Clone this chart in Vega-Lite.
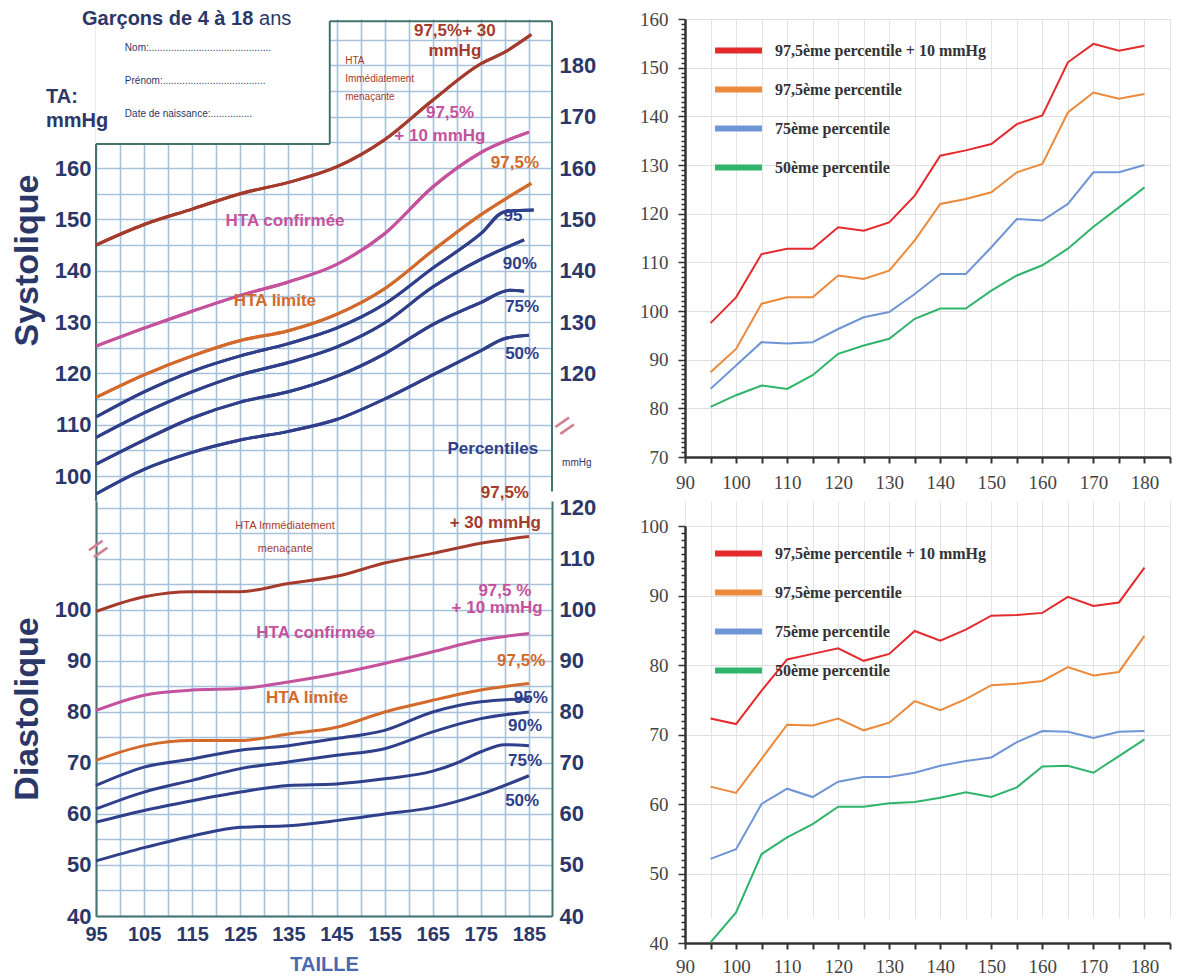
{
  "$schema": "https://vega.github.io/schema/vega-lite/v6.json",
  "background": "white",
  "padding": {"left": 10, "top": 9, "right": 5, "bottom": 2},
  "config": {"view": {"stroke": null}, "font": "Liberation Sans"},
  "datasets": {
    "sysL": [
      {"c":"p975_30","x":95,"v":145},{"c":"p975_30","x":105,"v":149},{"c":"p975_30","x":115,"v":152},{"c":"p975_30","x":125,"v":155},{"c":"p975_30","x":135,"v":157.2},{"c":"p975_30","x":145,"v":160.2},{"c":"p975_30","x":155,"v":165.5},{"c":"p975_30","x":165,"v":173.2},{"c":"p975_30","x":175,"v":180.3},{"c":"p975_30","x":180,"v":182.6},{"c":"p975_30","x":185.5,"v":186},
      {"c":"p975_10","x":95,"v":125.3},{"c":"p975_10","x":105,"v":128.8},{"c":"p975_10","x":115,"v":132.1},{"c":"p975_10","x":125,"v":135.2},{"c":"p975_10","x":135,"v":137.8},{"c":"p975_10","x":145,"v":141.2},{"c":"p975_10","x":155,"v":147.2},{"c":"p975_10","x":165,"v":156.3},{"c":"p975_10","x":175,"v":163},{"c":"p975_10","x":185,"v":167},
      {"c":"p975","x":95,"v":115.3},{"c":"p975","x":105,"v":119.7},{"c":"p975","x":115,"v":123.4},{"c":"p975","x":125,"v":126.4},{"c":"p975","x":135,"v":128.3},{"c":"p975","x":145,"v":131.5},{"c":"p975","x":155,"v":136.5},{"c":"p975","x":165,"v":143.9},{"c":"p975","x":175,"v":150.9},{"c":"p975","x":185.5,"v":157},
      {"c":"p95","x":95,"v":111.5},{"c":"p95","x":105,"v":116.4},{"c":"p95","x":115,"v":120.4},{"c":"p95","x":125,"v":123.4},{"c":"p95","x":135,"v":125.8},{"c":"p95","x":145,"v":128.8},{"c":"p95","x":155,"v":133.5},{"c":"p95","x":165,"v":140.5},{"c":"p95","x":175,"v":147.2},{"c":"p95","x":180,"v":151.5},{"c":"p95","x":186,"v":151.8},
      {"c":"p90","x":95,"v":107.5},{"c":"p90","x":105,"v":112.3},{"c":"p90","x":115,"v":116.4},{"c":"p90","x":125,"v":119.7},{"c":"p90","x":135,"v":122.1},{"c":"p90","x":145,"v":125.1},{"c":"p90","x":155,"v":129.8},{"c":"p90","x":165,"v":136.8},{"c":"p90","x":175,"v":142.2},{"c":"p90","x":184,"v":146},
      {"c":"p75","x":95,"v":102.3},{"c":"p75","x":105,"v":107},{"c":"p75","x":115,"v":111.3},{"c":"p75","x":125,"v":114.4},{"c":"p75","x":135,"v":116.4},{"c":"p75","x":145,"v":119.4},{"c":"p75","x":155,"v":123.8},{"c":"p75","x":165,"v":129.5},{"c":"p75","x":175,"v":133.8},{"c":"p75","x":181,"v":136.2},{"c":"p75","x":184,"v":136},
      {"c":"p50","x":95,"v":96.5},{"c":"p50","x":105,"v":101.3},{"c":"p50","x":115,"v":104.6},{"c":"p50","x":125,"v":107},{"c":"p50","x":135,"v":108.7},{"c":"p50","x":145,"v":111},{"c":"p50","x":155,"v":115},{"c":"p50","x":165,"v":119.7},{"c":"p50","x":175,"v":124.4},{"c":"p50","x":180,"v":126.8},{"c":"p50","x":185,"v":127.4}
    ],
    "diaL": [
      {"c":"p975_30","x":95,"v":99.7},{"c":"p975_30","x":105,"v":102.6},{"c":"p975_30","x":115,"v":103.6},{"c":"p975_30","x":125,"v":103.6},{"c":"p975_30","x":135,"v":105.2},{"c":"p975_30","x":145,"v":106.6},{"c":"p975_30","x":155,"v":109.2},{"c":"p975_30","x":165,"v":111.1},{"c":"p975_30","x":175,"v":113.1},{"c":"p975_30","x":185,"v":114.4},
      {"c":"p975_10","x":95,"v":80.3},{"c":"p975_10","x":105,"v":83.3},{"c":"p975_10","x":115,"v":84.3},{"c":"p975_10","x":125,"v":84.6},{"c":"p975_10","x":135,"v":85.9},{"c":"p975_10","x":145,"v":87.5},{"c":"p975_10","x":155,"v":89.5},{"c":"p975_10","x":165,"v":91.8},{"c":"p975_10","x":175,"v":94.1},{"c":"p975_10","x":185,"v":95.4},
      {"c":"p975","x":95,"v":70.5},{"c":"p975","x":105,"v":73.4},{"c":"p975","x":115,"v":74.4},{"c":"p975","x":125,"v":74.4},{"c":"p975","x":135,"v":75.7},{"c":"p975","x":145,"v":77},{"c":"p975","x":155,"v":80},{"c":"p975","x":165,"v":82.3},{"c":"p975","x":175,"v":84.3},{"c":"p975","x":185,"v":85.6},
      {"c":"p95","x":95,"v":65.6},{"c":"p95","x":105,"v":69.2},{"c":"p95","x":115,"v":70.8},{"c":"p95","x":125,"v":72.5},{"c":"p95","x":135,"v":73.4},{"c":"p95","x":145,"v":74.8},{"c":"p95","x":155,"v":76.4},{"c":"p95","x":165,"v":80},{"c":"p95","x":175,"v":82},{"c":"p95","x":185,"v":82.6},
      {"c":"p90","x":95,"v":61},{"c":"p90","x":105,"v":64.3},{"c":"p90","x":115,"v":66.6},{"c":"p90","x":125,"v":68.9},{"c":"p90","x":135,"v":70.2},{"c":"p90","x":145,"v":71.5},{"c":"p90","x":155,"v":72.8},{"c":"p90","x":165,"v":76.1},{"c":"p90","x":175,"v":78.7},{"c":"p90","x":185,"v":80},
      {"c":"p75","x":95,"v":58.4},{"c":"p75","x":105,"v":60.7},{"c":"p75","x":115,"v":62.6},{"c":"p75","x":125,"v":64.3},{"c":"p75","x":135,"v":65.6},{"c":"p75","x":145,"v":65.9},{"c":"p75","x":155,"v":66.9},{"c":"p75","x":165,"v":68.4},{"c":"p75","x":170,"v":70},{"c":"p75","x":175,"v":72.2},{"c":"p75","x":180,"v":73.6},{"c":"p75","x":185,"v":73.4},
      {"c":"p50","x":95,"v":50.8},{"c":"p50","x":105,"v":53.4},{"c":"p50","x":115,"v":55.7},{"c":"p50","x":125,"v":57.4},{"c":"p50","x":135,"v":57.7},{"c":"p50","x":145,"v":58.7},{"c":"p50","x":155,"v":60},{"c":"p50","x":165,"v":61.3},{"c":"p50","x":175,"v":63.9},{"c":"p50","x":185,"v":67.5}
    ],
    "sysR": [
      {"s":"97,5ème percentile + 10 mmHg","x":95,"v":97.5},{"s":"97,5ème percentile + 10 mmHg","x":100,"v":102.8},{"s":"97,5ème percentile + 10 mmHg","x":105,"v":111.7},{"s":"97,5ème percentile + 10 mmHg","x":110,"v":112.8},{"s":"97,5ème percentile + 10 mmHg","x":115,"v":112.8},{"s":"97,5ème percentile + 10 mmHg","x":120,"v":117.2},{"s":"97,5ème percentile + 10 mmHg","x":125,"v":116.5},{"s":"97,5ème percentile + 10 mmHg","x":130,"v":118.2},{"s":"97,5ème percentile + 10 mmHg","x":135,"v":123.7},{"s":"97,5ème percentile + 10 mmHg","x":140,"v":131.9},{"s":"97,5ème percentile + 10 mmHg","x":145,"v":133},{"s":"97,5ème percentile + 10 mmHg","x":150,"v":134.3},{"s":"97,5ème percentile + 10 mmHg","x":155,"v":138.4},{"s":"97,5ème percentile + 10 mmHg","x":160,"v":140.2},{"s":"97,5ème percentile + 10 mmHg","x":165,"v":151.1},{"s":"97,5ème percentile + 10 mmHg","x":170,"v":154.9},{"s":"97,5ème percentile + 10 mmHg","x":175,"v":153.5},{"s":"97,5ème percentile + 10 mmHg","x":180,"v":154.5},
      {"s":"97,5ème percentile","x":95,"v":87.4},{"s":"97,5ème percentile","x":100,"v":92.2},{"s":"97,5ème percentile","x":105,"v":101.5},{"s":"97,5ème percentile","x":110,"v":102.8},{"s":"97,5ème percentile","x":115,"v":102.8},{"s":"97,5ème percentile","x":120,"v":107.3},{"s":"97,5ème percentile","x":125,"v":106.6},{"s":"97,5ème percentile","x":130,"v":108.3},{"s":"97,5ème percentile","x":135,"v":114.5},{"s":"97,5ème percentile","x":140,"v":122},{"s":"97,5ème percentile","x":145,"v":123},{"s":"97,5ème percentile","x":150,"v":124.4},{"s":"97,5ème percentile","x":155,"v":128.5},{"s":"97,5ème percentile","x":160,"v":130.2},{"s":"97,5ème percentile","x":165,"v":140.8},{"s":"97,5ème percentile","x":170,"v":144.9},{"s":"97,5ème percentile","x":175,"v":143.6},{"s":"97,5ème percentile","x":180,"v":144.6},
      {"s":"75ème percentile","x":95,"v":84},{"s":"75ème percentile","x":100,"v":88.8},{"s":"75ème percentile","x":105,"v":93.6},{"s":"75ème percentile","x":110,"v":93.3},{"s":"75ème percentile","x":115,"v":93.6},{"s":"75ème percentile","x":120,"v":96.3},{"s":"75ème percentile","x":125,"v":98.7},{"s":"75ème percentile","x":130,"v":99.8},{"s":"75ème percentile","x":135,"v":103.5},{"s":"75ème percentile","x":140,"v":107.6},{"s":"75ème percentile","x":145,"v":107.6},{"s":"75ème percentile","x":150,"v":113.1},{"s":"75ème percentile","x":155,"v":118.9},{"s":"75ème percentile","x":160,"v":118.6},{"s":"75ème percentile","x":165,"v":122},{"s":"75ème percentile","x":170,"v":128.5},{"s":"75ème percentile","x":175,"v":128.5},{"s":"75ème percentile","x":180,"v":130},
      {"s":"50ème percentile","x":95,"v":80.3},{"s":"50ème percentile","x":100,"v":82.7},{"s":"50ème percentile","x":105,"v":84.7},{"s":"50ème percentile","x":110,"v":84},{"s":"50ème percentile","x":115,"v":86.8},{"s":"50ème percentile","x":120,"v":91.2},{"s":"50ème percentile","x":125,"v":92.9},{"s":"50ème percentile","x":130,"v":94.3},{"s":"50ème percentile","x":135,"v":98.4},{"s":"50ème percentile","x":140,"v":100.5},{"s":"50ème percentile","x":145,"v":100.5},{"s":"50ème percentile","x":150,"v":104.2},{"s":"50ème percentile","x":155,"v":107.3},{"s":"50ème percentile","x":160,"v":109.4},{"s":"50ème percentile","x":165,"v":112.8},{"s":"50ème percentile","x":170,"v":117.3},{"s":"50ème percentile","x":175,"v":121.3},{"s":"50ème percentile","x":180,"v":125.4}
    ],
    "diaR": [
      {"s":"97,5ème percentile + 10 mmHg","x":95,"v":72.3},{"s":"97,5ème percentile + 10 mmHg","x":100,"v":71.5},{"s":"97,5ème percentile + 10 mmHg","x":105,"v":76.3},{"s":"97,5ème percentile + 10 mmHg","x":110,"v":80.8},{"s":"97,5ème percentile + 10 mmHg","x":115,"v":81.6},{"s":"97,5ème percentile + 10 mmHg","x":120,"v":82.4},{"s":"97,5ème percentile + 10 mmHg","x":125,"v":80.6},{"s":"97,5ème percentile + 10 mmHg","x":130,"v":81.6},{"s":"97,5ème percentile + 10 mmHg","x":135,"v":84.9},{"s":"97,5ème percentile + 10 mmHg","x":140,"v":83.5},{"s":"97,5ème percentile + 10 mmHg","x":145,"v":85.1},{"s":"97,5ème percentile + 10 mmHg","x":150,"v":87.1},{"s":"97,5ème percentile + 10 mmHg","x":155,"v":87.2},{"s":"97,5ème percentile + 10 mmHg","x":160,"v":87.5},{"s":"97,5ème percentile + 10 mmHg","x":165,"v":89.8},{"s":"97,5ème percentile + 10 mmHg","x":170,"v":88.5},{"s":"97,5ème percentile + 10 mmHg","x":175,"v":89},{"s":"97,5ème percentile + 10 mmHg","x":180,"v":94},
      {"s":"97,5ème percentile","x":95,"v":62.5},{"s":"97,5ème percentile","x":100,"v":61.6},{"s":"97,5ème percentile","x":105,"v":66.5},{"s":"97,5ème percentile","x":110,"v":71.4},{"s":"97,5ème percentile","x":115,"v":71.3},{"s":"97,5ème percentile","x":120,"v":72.3},{"s":"97,5ème percentile","x":125,"v":70.6},{"s":"97,5ème percentile","x":130,"v":71.7},{"s":"97,5ème percentile","x":135,"v":74.8},{"s":"97,5ème percentile","x":140,"v":73.5},{"s":"97,5ème percentile","x":145,"v":75.1},{"s":"97,5ème percentile","x":150,"v":77.1},{"s":"97,5ème percentile","x":155,"v":77.3},{"s":"97,5ème percentile","x":160,"v":77.7},{"s":"97,5ème percentile","x":165,"v":79.7},{"s":"97,5ème percentile","x":170,"v":78.5},{"s":"97,5ème percentile","x":175,"v":79},{"s":"97,5ème percentile","x":180,"v":84.2},
      {"s":"75ème percentile","x":95,"v":52.1},{"s":"75ème percentile","x":100,"v":53.5},{"s":"75ème percentile","x":105,"v":60},{"s":"75ème percentile","x":110,"v":62.2},{"s":"75ème percentile","x":115,"v":61},{"s":"75ème percentile","x":120,"v":63.2},{"s":"75ème percentile","x":125,"v":63.9},{"s":"75ème percentile","x":130,"v":63.9},{"s":"75ème percentile","x":135,"v":64.5},{"s":"75ème percentile","x":140,"v":65.5},{"s":"75ème percentile","x":145,"v":66.2},{"s":"75ème percentile","x":150,"v":66.7},{"s":"75ème percentile","x":155,"v":68.9},{"s":"75ème percentile","x":160,"v":70.5},{"s":"75ème percentile","x":165,"v":70.4},{"s":"75ème percentile","x":170,"v":69.5},{"s":"75ème percentile","x":175,"v":70.4},{"s":"75ème percentile","x":180,"v":70.5},
      {"s":"50ème percentile","x":95,"v":40.1},{"s":"50ème percentile","x":100,"v":44.4},{"s":"50ème percentile","x":105,"v":52.8},{"s":"50ème percentile","x":110,"v":55.2},{"s":"50ème percentile","x":115,"v":57.1},{"s":"50ème percentile","x":120,"v":59.6},{"s":"50ème percentile","x":125,"v":59.6},{"s":"50ème percentile","x":130,"v":60.1},{"s":"50ème percentile","x":135,"v":60.3},{"s":"50ème percentile","x":140,"v":60.9},{"s":"50ème percentile","x":145,"v":61.7},{"s":"50ème percentile","x":150,"v":61},{"s":"50ème percentile","x":155,"v":62.4},{"s":"50ème percentile","x":160,"v":65.4},{"s":"50ème percentile","x":165,"v":65.5},{"s":"50ème percentile","x":170,"v":64.5},{"s":"50ème percentile","x":175,"v":66.9},{"s":"50ème percentile","x":180,"v":69.3}
    ],
    "sysNotch": [{"x":95,"x2":143.6,"v":164.7,"v2":189.03}],
    "sysFrame": [
      {"x":95,"v":95.13,"x2":95,"v2":164.7},
      {"x":95,"v":164.7,"x2":143.6,"v2":164.7},
      {"x":143.6,"v":164.7,"x2":143.6,"v2":188.6},
      {"x":143.6,"v":188.6,"x2":189.8,"v2":188.6},
      {"x":189.8,"v":188.6,"x2":189.8,"v2":97}
    ],
    "sysHead": [
      {"x":92.1,"v":189.03,"t":"Garçons de 4 à 18"},
      {"x":84.6,"v":173.8,"t":"TA:"},
      {"x":84.6,"v":169.2,"t":"mmHg"}
    ],
    "sysAns": [{"x":128.9,"v":189.03,"t":"ans"}],
    "sysForm": [
      {"x":101,"v":183.4,"t":"Nom:............................................"},
      {"x":101,"v":176.9,"t":"Prénom:....................................."},
      {"x":101,"v":170.5,"t":"Date de naissance:..............."},
      {"x":191.9,"v":102.5,"t":"mmHg"}
    ],
    "sysHTA": [
      {"x":146.8,"v":180.8,"t":"HTA"},
      {"x":146.8,"v":177.3,"t":"Immédiatement"},
      {"x":146.8,"v":173.8,"t":"menaçante"}
    ],
    "sysBreak": [{"x":192.6,"v":109.6,"t":"="}],
    "diaBreak": [{"x":95.6,"v":111.8,"t":"="}],
    "sysLab": [
      {"x":169.6,"v":186.7,"t":"97,5%+ 30","c":"p975_30"},
      {"x":169.6,"v":182.8,"t":"mmHg","c":"p975_30"},
      {"x":168.6,"v":170.7,"t":"97,5%","c":"p975_10"},
      {"x":166.5,"v":166.2,"t":"+ 10 mmHg","c":"p975_10"},
      {"x":182.1,"v":161.0,"t":"97,5%","c":"p975"},
      {"x":134.3,"v":149.7,"t":"HTA confirmée","c":"p975_10"},
      {"x":132.2,"v":134.1,"t":"HTA limite","c":"p975"},
      {"x":181.7,"v":150.6,"t":"95","c":"p95"},
      {"x":183.1,"v":141.3,"t":"90%","c":"p90"},
      {"x":183.6,"v":132.9,"t":"75%","c":"p75"},
      {"x":183.6,"v":123.8,"t":"50%","c":"p50"},
      {"x":177.5,"v":105.3,"t":"Percentiles","c":"p50"}
    ],
    "diaHTA": [
      {"x":134.3,"v":116.5,"t":"HTA Immédiatement"},
      {"x":134.3,"v":112.0,"t":"menaçante"}
    ],
    "diaLab": [
      {"x":180.0,"v":122.9,"t":"97,5%","c":"p975_30"},
      {"x":178.0,"v":117.1,"t":"+ 30 mmHg","c":"p975_30"},
      {"x":180.0,"v":103.7,"t":"97,5 %","c":"p975_10"},
      {"x":178.4,"v":100.4,"t":"+ 10 mmHg","c":"p975_10"},
      {"x":140.7,"v":95.5,"t":"HTA confirmée","c":"p975_10"},
      {"x":183.4,"v":90.0,"t":"97,5%","c":"p975"},
      {"x":138.9,"v":82.7,"t":"HTA limite","c":"p975"},
      {"x":185.4,"v":82.7,"t":"95%","c":"p95"},
      {"x":184.2,"v":77.3,"t":"90%","c":"p90"},
      {"x":184.2,"v":70.4,"t":"75%","c":"p75"},
      {"x":183.6,"v":62.5,"t":"50%","c":"p50"}
    ]
  },
  "bounds": "flush",
  "columns": 2,
  "spacing": {"row": 0, "column": 133},
  "concat": [
    {
      "width": 456,
      "height": 482,
      "resolve": {"axis": {"x": "independent", "y": "independent"}},
      "layer": [
        {
          "data": {"name": "sysL"},
          "mark": {"type": "line", "interpolate": "monotone", "strokeWidth": 3},
          "encoding": {
            "x": {"field": "x", "type": "quantitative", "scale": {"domain": [95, 189.8], "nice": false, "zero": false},
              "axis": {"values": [95,100,105,110,115,120,125,130,135,140,145,150,155,160,165,170,175,180,185], "labels": false, "ticks": false, "domain": false, "grid": true, "gridColor": "#a7c1da", "gridWidth": 1.6, "title": null}},
            "y": {"field": "v", "type": "quantitative", "scale": {"domain": [95.13, 189.03], "nice": false, "zero": false},
              "axis": {"orient": "left", "values": [100,105,110,115,120,125,130,135,140,145,150,155,160,165,170,175,180,185], "labelExpr": "datum.value % 10 === 0 && datum.value <= 160 ? datum.label : ''", "labelOverlap": false, "ticks": false, "domain": false, "grid": true, "gridColor": "#a7c1da", "gridWidth": 1.6, "labelFont": "Liberation Sans", "labelFontWeight": "bold", "labelFontSize": 22, "labelColor": "#2b3768", "labelPadding": 5, "title": "Systolique", "titleFont": "Liberation Sans", "titleFontSize": 34, "titleFontWeight": "bold", "titleColor": "#2b3768", "titlePadding": 10}},
            "color": {"field": "c", "type": "nominal", "legend": null,
              "scale": {"domain": ["p975_30","p975_10","p975","p95","p90","p75","p50"], "range": ["#a53b2c","#c4529c","#d36a2c","#2f3f8a","#2f3f8a","#2f3f8a","#2f3f8a"]}}
          }
        },
        {
          "data": {"name": "sysNotch"},
          "mark": {"type": "rect", "color": "white"},
          "encoding": {
            "x": {"field": "x", "type": "quantitative", "scale": {"domain": [95, 189.8], "nice": false, "zero": false}, "axis": null},
            "x2": {"field": "x2"},
            "y": {"field": "v", "type": "quantitative", "scale": {"domain": [95.13, 189.03], "nice": false, "zero": false}, "axis": null},
            "y2": {"field": "v2"}
          }
        },
        {
          "data": {"name": "sysFrame"},
          "mark": {"type": "rule", "color": "#44736f", "strokeWidth": 2},
          "encoding": {
            "x": {"field": "x", "type": "quantitative", "scale": {"domain": [95, 189.8], "nice": false, "zero": false}, "axis": null},
            "x2": {"field": "x2"},
            "y": {"field": "v", "type": "quantitative", "scale": {"domain": [95.13, 189.03], "nice": false, "zero": false}, "axis": null},
            "y2": {"field": "v2"}
          }
        },
        {
          "data": {"name": "sysL"},
          "mark": {"type": "line", "interpolate": "monotone", "strokeWidth": 3},
          "encoding": {
            "x": {"field": "x", "type": "quantitative", "scale": {"domain": [95, 189.8], "nice": false, "zero": false}, "axis": null},
            "y": {"field": "v", "type": "quantitative", "scale": {"domain": [95.13, 189.03], "nice": false, "zero": false}, "axis": null},
            "color": {"field": "c", "type": "nominal", "legend": null}
          }
        },
        {
          "data": {"name": "sysHead"},
          "mark": {"type": "text", "align": "left", "baseline": "middle", "font": "Liberation Sans", "fontWeight": "bold", "fontSize": 20, "color": "#2b3768"},
          "encoding": {
            "x": {"field": "x", "type": "quantitative", "scale": {"domain": [95, 189.8], "nice": false, "zero": false}, "axis": null},
            "y": {"field": "v", "type": "quantitative", "scale": {"domain": [95.13, 189.03], "nice": false, "zero": false}, "axis": null},
            "text": {"field": "t"}
          }
        },
        {
          "data": {"name": "sysAns"},
          "mark": {"type": "text", "align": "left", "baseline": "middle", "font": "Liberation Sans", "fontSize": 20, "color": "#2b3768"},
          "encoding": {
            "x": {"field": "x", "type": "quantitative", "scale": {"domain": [95, 189.8], "nice": false, "zero": false}, "axis": null},
            "y": {"field": "v", "type": "quantitative", "scale": {"domain": [95.13, 189.03], "nice": false, "zero": false}, "axis": null},
            "text": {"field": "t"}
          }
        },
        {
          "data": {"name": "sysForm"},
          "mark": {"type": "text", "align": "left", "baseline": "middle", "font": "Liberation Sans", "fontSize": 10, "color": "#2b3768"},
          "encoding": {
            "x": {"field": "x", "type": "quantitative", "scale": {"domain": [95, 189.8], "nice": false, "zero": false}, "axis": null},
            "y": {"field": "v", "type": "quantitative", "scale": {"domain": [95.13, 189.03], "nice": false, "zero": false}, "axis": null},
            "text": {"field": "t"}
          }
        },
        {
          "data": {"name": "sysHTA"},
          "mark": {"type": "text", "align": "left", "baseline": "middle", "font": "Liberation Sans", "fontSize": 10, "color": "#a53b2c"},
          "encoding": {
            "x": {"field": "x", "type": "quantitative", "scale": {"domain": [95, 189.8], "nice": false, "zero": false}, "axis": null},
            "y": {"field": "v", "type": "quantitative", "scale": {"domain": [95.13, 189.03], "nice": false, "zero": false}, "axis": null},
            "text": {"field": "t"}
          }
        },
        {
          "data": {"name": "sysBreak"},
          "mark": {"type": "text", "align": "center", "baseline": "middle", "font": "Liberation Sans", "fontSize": 34, "angle": -35, "color": "#d27d92"},
          "encoding": {
            "x": {"field": "x", "type": "quantitative", "scale": {"domain": [95, 189.8], "nice": false, "zero": false}, "axis": null},
            "y": {"field": "v", "type": "quantitative", "scale": {"domain": [95.13, 189.03], "nice": false, "zero": false}, "axis": null},
            "text": {"field": "t"}
          }
        },
        {
          "data": {"name": "sysLab"},
          "mark": {"type": "text", "align": "center", "baseline": "middle", "font": "Liberation Sans", "fontWeight": "bold", "fontSize": 17},
          "encoding": {
            "x": {"field": "x", "type": "quantitative", "scale": {"domain": [95, 189.8], "nice": false, "zero": false}, "axis": null},
            "y": {"field": "v", "type": "quantitative", "scale": {"domain": [95.13, 189.03], "nice": false, "zero": false},
              "axis": {"orient": "right", "values": [120,130,140,150,160,170,180], "grid": false, "ticks": false, "domain": false, "labelFont": "Liberation Sans", "labelFontWeight": "bold", "labelFontSize": 22, "labelColor": "#2b3768", "labelPadding": 7, "title": null}},
            "color": {"field": "c", "type": "nominal", "legend": null},
            "text": {"field": "t"}
          }
        }
      ]
    },
    {
      "width": 485,
      "height": 438,
      "data": {"name": "sysR"},
      "mark": {"type": "line", "strokeWidth": 2},
      "encoding": {
        "x": {"field": "x", "type": "quantitative", "scale": {"domain": [90, 185], "nice": false, "zero": false},
          "axis": {"values": [90,95,100,105,110,115,120,125,130,135,140,145,150,155,160,165,170,175,180,185], "labelExpr": "datum.value % 10 === 0 && datum.value <= 180 ? datum.label : ''", "labelOverlap": false, "labelFlush": false, "grid": true, "gridColor": "#e4e4e4", "gridWidth": 1, "domainColor": "#333333", "domainWidth": 2.5, "tickColor": "#333333", "tickWidth": 2, "tickSize": 6, "labelFont": "Liberation Serif", "labelFontSize": 19, "labelColor": "#444444", "labelPadding": 10, "title": null}},
        "y": {"field": "v", "type": "quantitative", "scale": {"domain": [70, 160], "nice": false, "zero": false},
          "axis": {"values": [70,71,72,73,74,75,76,77,78,79,80,81,82,83,84,85,86,87,88,89,90,91,92,93,94,95,96,97,98,99,100,101,102,103,104,105,106,107,108,109,110,111,112,113,114,115,116,117,118,119,120,121,122,123,124,125,126,127,128,129,130,131,132,133,134,135,136,137,138,139,140,141,142,143,144,145,146,147,148,149,150,151,152,153,154,155,156,157,158,159,160], "labelExpr": "datum.value % 10 === 0 ? datum.label : ''", "labelOverlap": false, "labelFlush": false, "grid": true, "gridColor": "#e0e0e0", "gridOpacity": {"condition": {"test": "datum.value % 10 === 0", "value": 1}, "value": 0}, "tickSize": {"condition": {"test": "datum.value % 10 === 0", "value": 7}, "value": 4}, "domainColor": "#333333", "domainWidth": 2.5, "tickColor": "#333333", "tickWidth": 1.5, "labelFont": "Liberation Serif", "labelFontSize": 19, "labelColor": "#444444", "labelPadding": 10, "title": null}},
        "color": {"field": "s", "type": "nominal",
          "scale": {"domain": ["97,5ème percentile + 10 mmHg","97,5ème percentile","75ème percentile","50ème percentile"], "range": ["#e52a2e","#eb8a3a","#6f95d6","#2fb46b"]},
          "legend": {"orient": "none", "legendX": 27, "legendY": 5, "title": null, "symbolType": "stroke", "symbolStrokeWidth": 6, "symbolSize": 2200, "labelFont": "Liberation Serif", "labelFontWeight": "bold", "labelFontSize": 16, "labelColor": "#333333", "labelLimit": 0, "rowPadding": -11, "labelOffset": 10}}
      }
    },
    {
      "width": 456,
      "height": 415,
      "resolve": {"axis": {"x": "independent", "y": "independent"}},
      "layer": [
        {
          "data": {"name": "diaL"},
          "mark": {"type": "line", "interpolate": "monotone", "strokeWidth": 3},
          "encoding": {
            "x": {"field": "x", "type": "quantitative", "scale": {"domain": [95, 189.8], "nice": false, "zero": false},
              "axis": {"values": [95,100,105,110,115,120,125,130,135,140,145,150,155,160,165,170,175,180,185], "labelExpr": "(datum.value - 95) % 10 === 0 ? datum.label : ''", "labelOverlap": false, "labelFlush": false, "ticks": false, "domain": true, "domainColor": "#44736f", "domainWidth": 2, "grid": true, "gridColor": "#a7c1da", "gridWidth": 1.6, "labelFont": "Liberation Sans", "labelFontWeight": "bold", "labelFontSize": 20, "labelColor": "#2b3768", "labelPadding": 8, "title": "TAILLE", "titleFont": "Liberation Sans", "titleFontSize": 20, "titleFontWeight": "bold", "titleColor": "#4a68ad", "titlePadding": 10}},
            "y": {"field": "v", "type": "quantitative", "scale": {"domain": [40, 121.37], "nice": false, "zero": false},
              "axis": {"orient": "left", "values": [40,45,50,55,60,65,70,75,80,85,90,95,100,105,110,115,120], "labelExpr": "datum.value % 10 === 0 && datum.value <= 100 ? datum.label : ''", "labelOverlap": false, "labelFlush": false, "ticks": false, "domain": true, "domainColor": "#44736f", "domainWidth": 2, "grid": true, "gridColor": "#a7c1da", "gridWidth": 1.6, "labelFont": "Liberation Sans", "labelFontWeight": "bold", "labelFontSize": 22, "labelColor": "#2b3768", "labelPadding": 5, "title": "Diastolique", "titleFont": "Liberation Sans", "titleFontSize": 34, "titleFontWeight": "bold", "titleColor": "#2b3768", "titlePadding": 10}},
            "color": {"field": "c", "type": "nominal", "legend": null,
              "scale": {"domain": ["p975_30","p975_10","p975","p95","p90","p75","p50"], "range": ["#a53b2c","#c4529c","#d36a2c","#2f3f8a","#2f3f8a","#2f3f8a","#2f3f8a"]}}
          }
        },
        {
          "data": {"name": "diaHTA"},
          "mark": {"type": "text", "align": "center", "baseline": "middle", "font": "Liberation Sans", "fontSize": 11, "color": "#a53b2c"},
          "encoding": {
            "x": {"field": "x", "type": "quantitative", "scale": {"domain": [95, 189.8], "nice": false, "zero": false}, "axis": null},
            "y": {"field": "v", "type": "quantitative", "scale": {"domain": [40, 121.37], "nice": false, "zero": false}, "axis": null},
            "text": {"field": "t"}
          }
        },
        {
          "data": {"name": "diaBreak"},
          "mark": {"type": "text", "align": "center", "baseline": "middle", "font": "Liberation Sans", "fontSize": 34, "angle": -35, "color": "#d27d92"},
          "encoding": {
            "x": {"field": "x", "type": "quantitative", "scale": {"domain": [95, 189.8], "nice": false, "zero": false}, "axis": null},
            "y": {"field": "v", "type": "quantitative", "scale": {"domain": [40, 121.37], "nice": false, "zero": false}, "axis": null},
            "text": {"field": "t"}
          }
        },
        {
          "data": {"name": "diaLab"},
          "mark": {"type": "text", "align": "center", "baseline": "middle", "font": "Liberation Sans", "fontWeight": "bold", "fontSize": 17},
          "encoding": {
            "x": {"field": "x", "type": "quantitative", "scale": {"domain": [95, 189.8], "nice": false, "zero": false}, "axis": null},
            "y": {"field": "v", "type": "quantitative", "scale": {"domain": [40, 121.37], "nice": false, "zero": false},
              "axis": {"orient": "right", "values": [40,50,60,70,80,90,100,110,120], "grid": false, "ticks": false, "domain": true, "domainColor": "#44736f", "domainWidth": 2, "labelFont": "Liberation Sans", "labelFontWeight": "bold", "labelFontSize": 22, "labelColor": "#2b3768", "labelPadding": 7, "labelFlush": false, "title": null}},
            "color": {"field": "c", "type": "nominal", "legend": null},
            "text": {"field": "t"}
          }
        }
      ]
    },
    {
      "width": 485,
      "height": 442,
      "data": {"name": "diaR"},
      "mark": {"type": "line", "strokeWidth": 2},
      "encoding": {
        "x": {"field": "x", "type": "quantitative", "scale": {"domain": [90, 185], "nice": false, "zero": false},
          "axis": {"values": [90,95,100,105,110,115,120,125,130,135,140,145,150,155,160,165,170,175,180,185], "labelExpr": "datum.value % 10 === 0 && datum.value <= 180 ? datum.label : ''", "labelOverlap": false, "labelFlush": false, "grid": true, "gridColor": "#e4e4e4", "gridWidth": 1, "domainColor": "#333333", "domainWidth": 2.5, "tickColor": "#333333", "tickWidth": 2, "tickSize": 6, "labelFont": "Liberation Serif", "labelFontSize": 19, "labelColor": "#444444", "labelPadding": 8, "title": null}},
        "y": {"field": "v", "type": "quantitative", "scale": {"domain": [40, 100], "range": [442, 25], "nice": false, "zero": false},
          "axis": {"values": [40,41,42,43,44,45,46,47,48,49,50,51,52,53,54,55,56,57,58,59,60,61,62,63,64,65,66,67,68,69,70,71,72,73,74,75,76,77,78,79,80,81,82,83,84,85,86,87,88,89,90,91,92,93,94,95,96,97,98,99,100], "labelExpr": "datum.value % 10 === 0 ? datum.label : ''", "labelOverlap": false, "labelFlush": false, "grid": true, "gridColor": "#e0e0e0", "gridOpacity": {"condition": {"test": "datum.value % 10 === 0", "value": 1}, "value": 0}, "tickSize": {"condition": {"test": "datum.value % 10 === 0", "value": 7}, "value": 4}, "domain": true, "domainColor": "#333333", "domainWidth": 2.5, "tickColor": "#333333", "tickWidth": 1.5, "labelFont": "Liberation Serif", "labelFontSize": 19, "labelColor": "#444444", "labelPadding": 10, "title": null}},
        "color": {"field": "s", "type": "nominal",
          "scale": {"domain": ["97,5ème percentile + 10 mmHg","97,5ème percentile","75ème percentile","50ème percentile"], "range": ["#e52a2e","#eb8a3a","#6f95d6","#2fb46b"]},
          "legend": {"orient": "none", "legendX": 27, "legendY": 26, "title": null, "symbolType": "stroke", "symbolStrokeWidth": 6, "symbolSize": 2200, "labelFont": "Liberation Serif", "labelFontWeight": "bold", "labelFontSize": 16, "labelColor": "#333333", "labelLimit": 0, "rowPadding": -11, "labelOffset": 10}}
      }
    }
  ],
  "resolve": {"scale": {"color": "independent"}}
}
